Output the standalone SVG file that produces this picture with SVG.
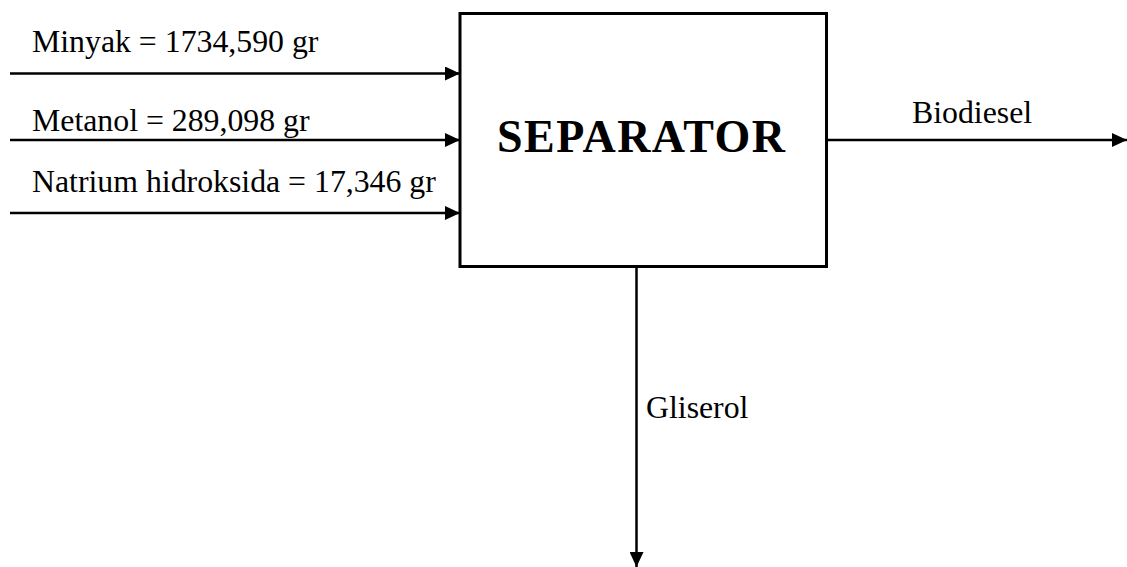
<svg xmlns="http://www.w3.org/2000/svg" width="1127" height="567" viewBox="0 0 1127 567">
  <style>
    .lbl { font-family: "Liberation Serif", "Times New Roman", serif; font-size: 31.8px; fill: #000; }
    .title { font-family: "Liberation Serif", "Times New Roman", serif; font-size: 46px; font-weight: bold; fill: #000; }
    .conn { stroke: #000; stroke-width: 2.5; fill: none; }
  </style>
  <defs>
    <marker id="arrow" markerUnits="userSpaceOnUse" markerWidth="16" markerHeight="14" refX="15" refY="7" orient="auto">
      <path d="M0,0 L15,7 L0,14 Z" fill="#000"/>
    </marker>
  </defs>
  <rect width="1127" height="567" fill="#fff"/>
  <g id="connectors">
    <line class="conn" x1="10" y1="73.5" x2="460" y2="73.5" marker-end="url(#arrow)"/>
    <line class="conn" x1="10" y1="140" x2="460" y2="140" marker-end="url(#arrow)"/>
    <line class="conn" x1="10" y1="213" x2="460" y2="213" marker-end="url(#arrow)"/>
    <line class="conn" x1="827" y1="140" x2="1127" y2="140" marker-end="url(#arrow)"/>
    <line class="conn" x1="636.5" y1="267" x2="636.5" y2="567" marker-end="url(#arrow)"/>
  </g>
  <g id="separator">
    <rect x="460" y="13.5" width="366.5" height="253" fill="#fff" stroke="#000" stroke-width="3"/>
    <text class="title" x="497" y="152" textLength="288" lengthAdjust="spacing">SEPARATOR</text>
  </g>
  <g id="labels">
    <text class="lbl" x="32" y="52">Minyak = 1734,590 gr</text>
    <text class="lbl" x="32" y="131">Metanol = 289,098 gr</text>
    <text class="lbl" x="32" y="192">Natrium hidroksida = 17,346 gr</text>
    <text class="lbl" x="912" y="123">Biodiesel</text>
    <text class="lbl" x="646" y="418">Gliserol</text>
  </g>
</svg>
